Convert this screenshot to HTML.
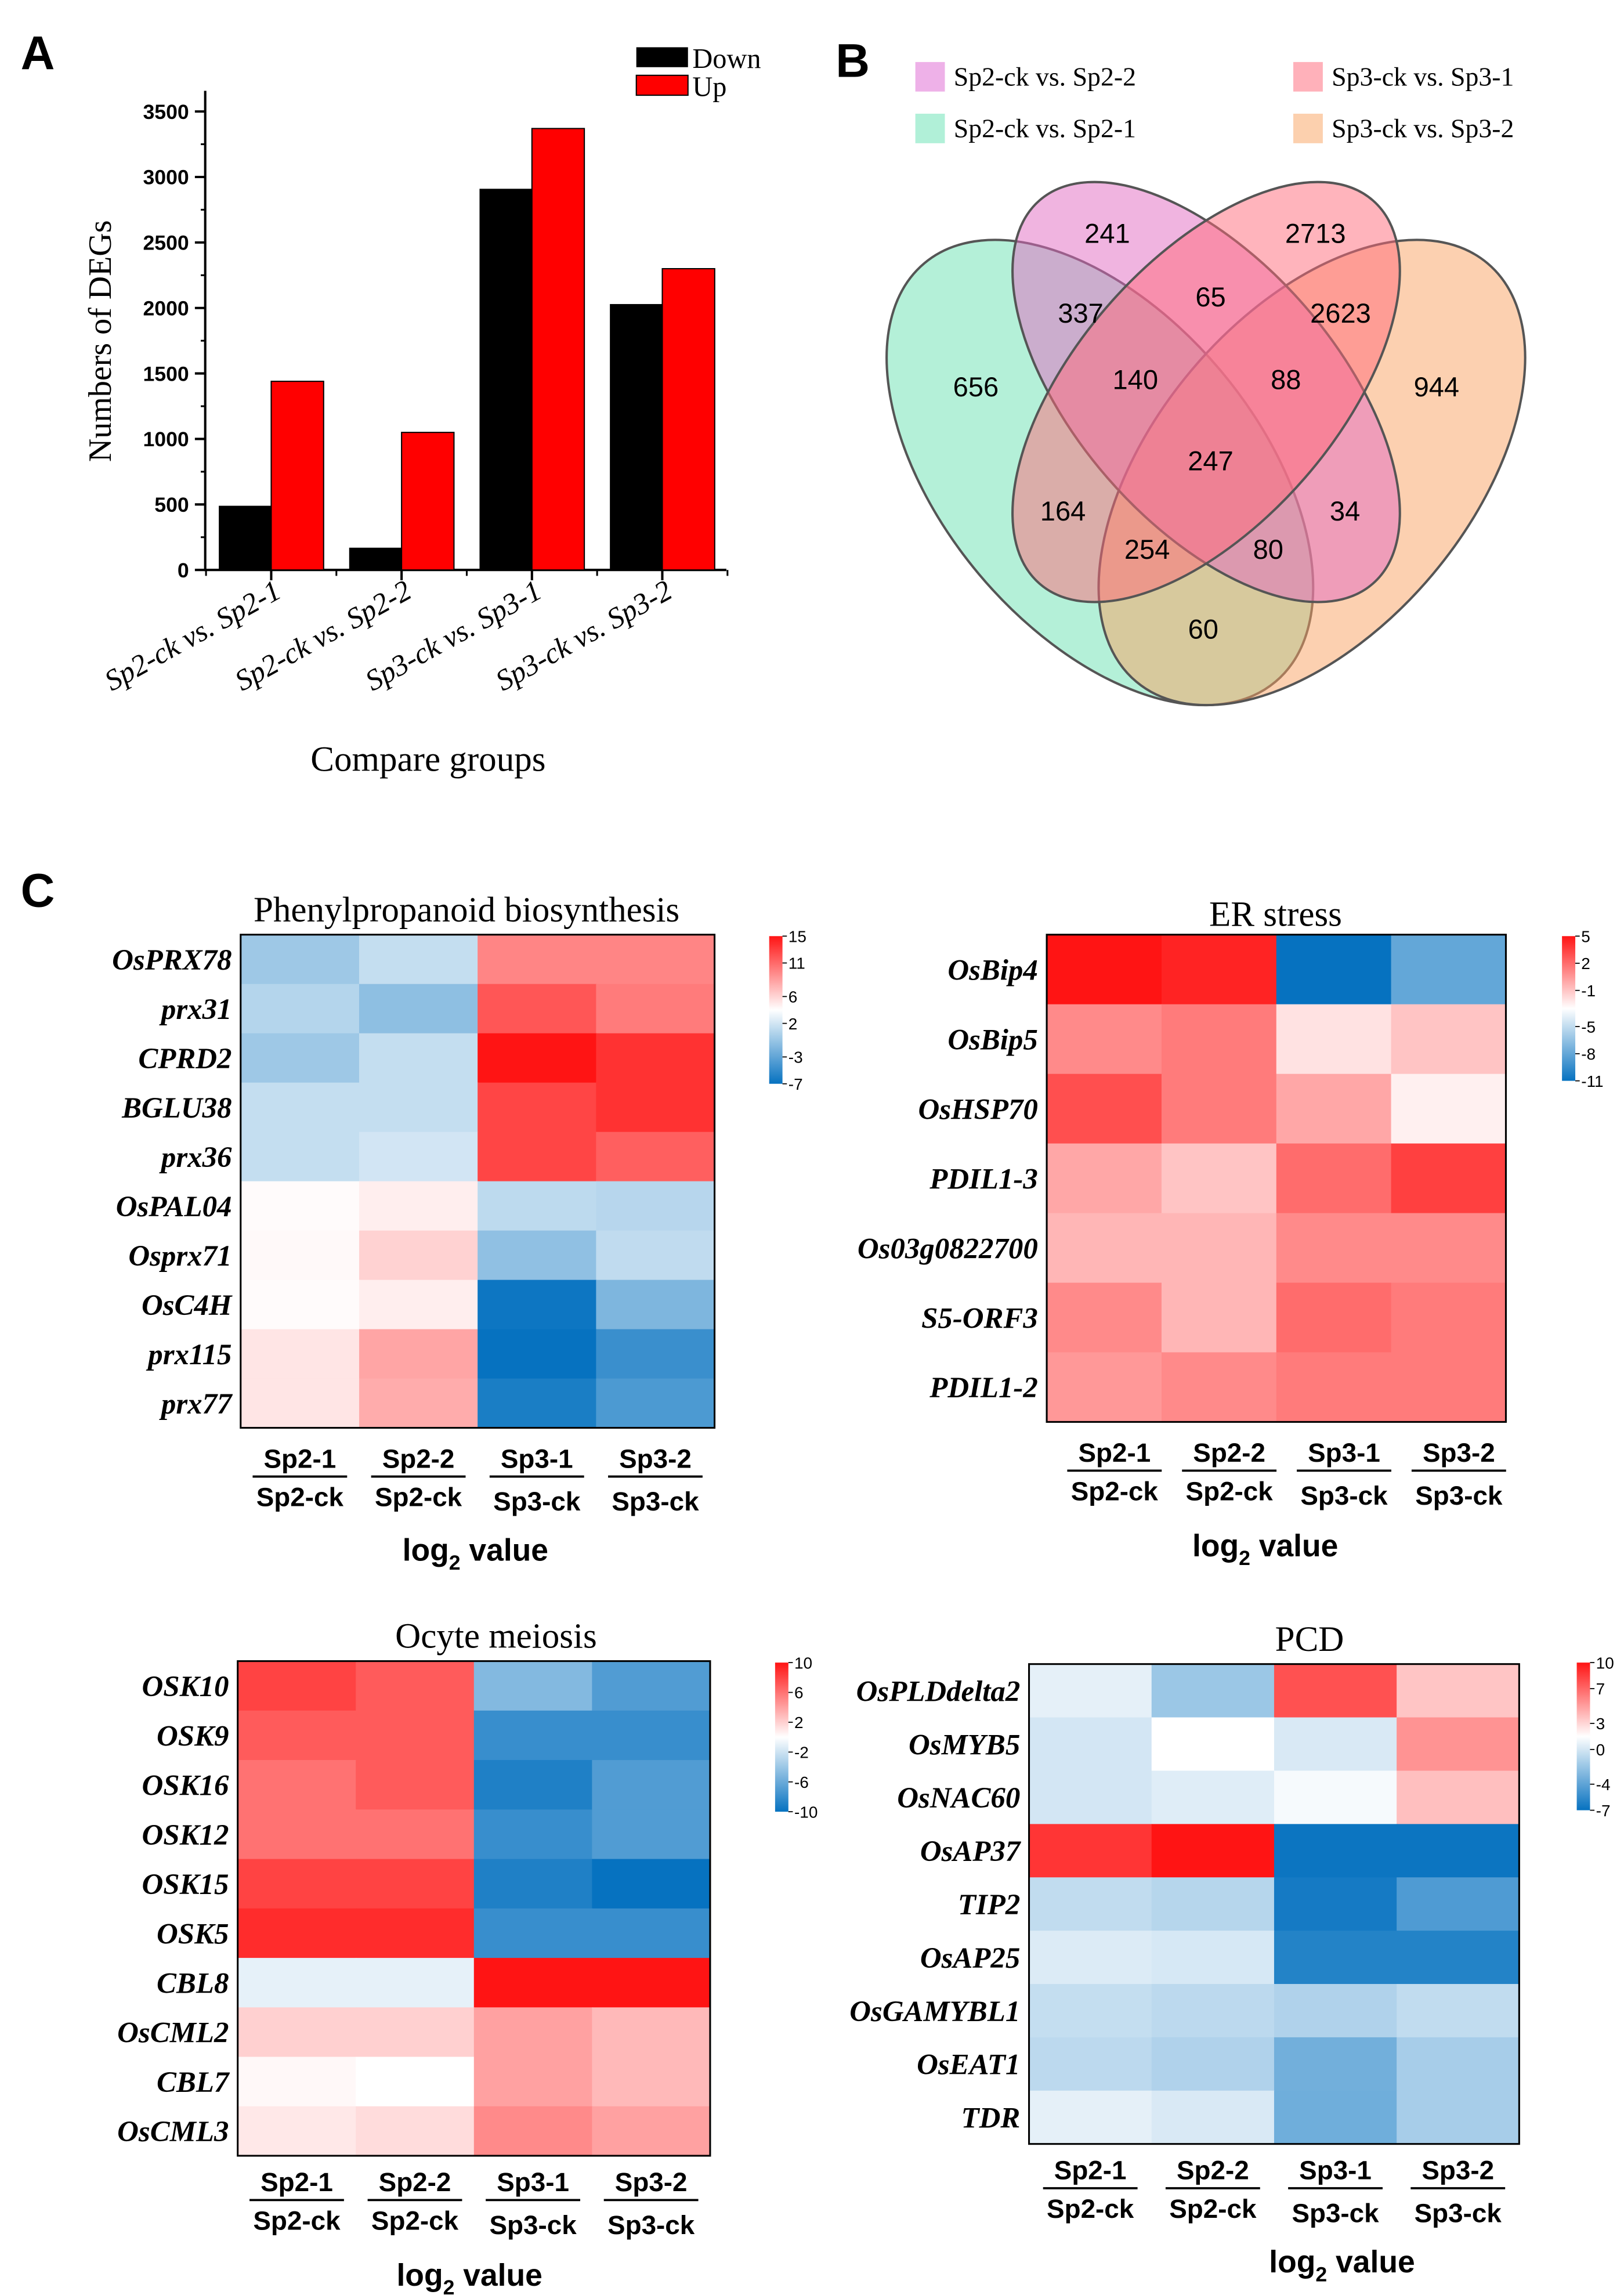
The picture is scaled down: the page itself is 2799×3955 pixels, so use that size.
<!DOCTYPE html>
<html><head><meta charset="utf-8">
<style>
html,body{margin:0;padding:0;background:#fff}
svg{display:block}
.serif{font-family:"Liberation Serif",serif}
.sans{font-family:"Liberation Sans",sans-serif}
</style></head>
<body>
<svg id="fig" xmlns="http://www.w3.org/2000/svg" width="2799" height="3955" viewBox="0 0 1100 1554.3">
<rect width="1100" height="1554.3" fill="#fff"/>
<text x="14" y="47" class="sans" font-size="32" font-weight="bold">A</text>
<text x="566" y="52" class="sans" font-size="32" font-weight="bold">B</text>
<text x="14" y="614" class="sans" font-size="32" font-weight="bold">C</text>
<g id="barchart"></g>
<g id="venn"></g>
<g id="heat"></g>
</svg>
<script>
// ---- Bar chart data ----
const barCategories = ["Sp2-ck vs. Sp2-1","Sp2-ck vs. Sp2-2","Sp3-ck vs. Sp3-1","Sp3-ck vs. Sp3-2"];
const downValues = [490,170,2910,2030];
const upValues = [1440,1050,3370,2300];
const yTicks = [0,500,1000,1500,2000,2500,3000,3500];

// ---- Venn data ----
const vennCounts = [241,2713,337,65,2623,656,140,88,944,247,164,34,254,80,60];
const vennSets = ["Sp2-ck vs. Sp2-2","Sp2-ck vs. Sp2-1","Sp3-ck vs. Sp3-1","Sp3-ck vs. Sp3-2"];

// ---- Heatmap data ----
const colLabelsTop = ["Sp2-1","Sp2-2","Sp3-1","Sp3-2"];
const colLabelsBottom = ["Sp2-ck","Sp2-ck","Sp3-ck","Sp3-ck"];
const phenylGenes = ["OsPRX78","prx31","CPRD2","BGLU38","prx36","OsPAL04","Osprx71","OsC4H","prx115","prx77"];
const phenylValues = [[-0.3,1.4,9.7,9.7],[0.7,-1,11.9,10.2],[-0.3,1.4,15,13.6],[1.4,1.4,12.7,13.6],[1.4,2,12.7,11.5],[4.2,4.8,1.1,0.8],[4.3,6.1,-0.9,1.2],[4.2,4.8,-6.7,-1.7],[5.2,8.2,-7,-4.7],[5.2,7.9,-6.1,-3.9]];
const phenylTicks = [15,11,6,2,-3,-7];
const erGenes = ["OsBip4","OsBip5","OsHSP70","PDIL1-3","Os03g0822700","S5-ORF3","PDIL1-2"];
const erValues = [[5,4.5,-11,-8],[1,1.5,-2,-1],[3,1.5,0,-2.5],[0,-1,2,3.5],[-0.5,-0.5,1,1],[1,-0.5,2,1.5],[0.5,1,1.5,1.5]];
const erTicks = [5,2,-1,-5,-8,-11];
const ocyteGenes = ["OSK10","OSK9","OSK16","OSK12","OSK15","OSK5","CBL8","OsCML2","CBL7","OsCML3"];
const ocyteValues = [[8,7,-5,-7],[7,7,-8,-8],[6,7,-9,-7],[6,6,-8,-7],[8,8,-9,-10],[9,9,-8,-8],[-1,-1,10,10],[2,2,4,3],[0.3,0,4,3],[1,1.5,5,4]];
const ocyteTicks = [10,6,2,-2,-6,-10];
const pcdGenes = ["OsPLDdelta2","OsMYB5","OsNAC60","OsAP37","TIP2","OsAP25","OsGAMYBL1","OsEAT1","TDR"];
const pcdValues = [[0.6,-1.9,7.8,3.6],[0,1.5,0.2,5.4],[0,0.4,1.2,3.8],[8.8,10,-6.8,-6.8],[-0.6,-1,-6.5,-4.5],[0.3,0.1,-6,-6],[-0.5,-0.8,-1.2,-0.6],[-0.8,-1.2,-3.3,-1.5],[0.6,0.2,-3.4,-1.5]];
const pcdTicks = [10,7,3,0,-4,-7];

const NS="http://www.w3.org/2000/svg";
function mk(parent,tag,attrs,text){const e=document.createElementNS(NS,tag);for(const k in attrs)e.setAttribute(k,attrs[k]);if(text!==undefined)e.textContent=text;parent.appendChild(e);return e;}

// ---- Bar chart ----
(function(){
  const g=document.getElementById('barchart');
  const x0=139,x1=492,yb=386,yt=75.5,maxV=3500;
  const y=v=>yb-(v/maxV)*(yb-yt);
  const step=88.3;
  const cx=i=>183.7+i*step;
  const bw=35.5;
  const ax=mk(g,'path',{d:`M${x0} ${yt-14}V${yb}H${x1}`,stroke:'#000','stroke-width':1.6,fill:'none'});
  
  yTicks.forEach(t=>{
    const l=mk(g,'line',{x1:x0-7,x2:x0,y1:y(t),y2:y(t),stroke:'#000','stroke-width':1.6});
    
    if(t<3500){const m=mk(g,'line',{x1:x0-3,x2:x0,y1:y(t+250),y2:y(t+250),stroke:'#000','stroke-width':1.2});
    }
    const tx=mk(g,'text',{x:x0-11,y:y(t)+5,'text-anchor':'end','font-size':14,'font-weight':'bold',class:'sans'},t);
    
  });
  for(let i=0;i<=4;i++){
    const bx=cx(0)-step/2+i*step;
    const m=mk(g,'line',{x1:bx,x2:bx,y1:yb,y2:yb+4,stroke:'#000','stroke-width':1.2});
    
  }
  barCategories.forEach((c,i)=>{
    const d=mk(g,'rect',{x:cx(i)-bw,y:y(downValues[i]),width:bw,height:yb-y(downValues[i]),fill:'#000'});
    
    const u=mk(g,'rect',{x:cx(i),y:y(upValues[i]),width:bw,height:yb-y(upValues[i]),fill:'#ff0000',stroke:'#000','stroke-width':0.8});
    
    const tk=mk(g,'line',{x1:cx(i),x2:cx(i),y1:yb,y2:yb+7,stroke:'#000','stroke-width':1.6});
    
    const tl=mk(g,'text',{x:cx(i)+8,y:yb+18,'text-anchor':'end','font-size':20,'font-style':'italic',class:'serif',transform:`rotate(-29 ${cx(i)+8} ${yb+18})`},c);
    
  });
  const yt2=mk(g,'text',{x:75,y:231,'text-anchor':'middle','font-size':22,class:'serif',transform:'rotate(-90 75 231)'},'Numbers of DEGs');
  
  const xt=mk(g,'text',{x:290,y:522,'text-anchor':'middle','font-size':24,class:'serif'},'Compare groups');
  
  const l1=mk(g,'rect',{x:431,y:32,width:35,height:13.5,fill:'#000'});
  
  const l2=mk(g,'rect',{x:431,y:51,width:35,height:13.5,fill:'#ff0000',stroke:'#000','stroke-width':0.8});
  
  const t1=mk(g,'text',{x:469,y:46,'font-size':19,class:'serif'},'Down');
  
  const t2=mk(g,'text',{x:469,y:65,'font-size':19,class:'serif'},'Up');
  
})();

// ---- Venn ----
(function(){
  const g=document.getElementById('venn');
  const ells=[
    {cx:745,cy:320,rx:185,ry:107,rot:50,fill:'#69e1b1',name:'ellipse-sp2-1'},
    {cx:888.6,cy:320,rx:185,ry:107,rot:-50,fill:'#f9a161',name:'ellipse-sp3-2'},
    {cx:817,cy:265.5,rx:172,ry:88.6,rot:49,fill:'#e169c1',name:'ellipse-sp2-2'},
    {cx:817,cy:265.5,rx:172,ry:88.6,rot:-49,fill:'#ff6979',name:'ellipse-sp3-1'}
  ];
  ells.forEach(e=>{
    const el=mk(g,'ellipse',{cx:e.cx,cy:e.cy,rx:e.rx,ry:e.ry,transform:`rotate(${e.rot} ${e.cx} ${e.cy})`,fill:e.fill,'fill-opacity':0.5,stroke:'#555','stroke-width':1.6});
    
  });
  const pos=[[750,158],[891,158],[732,212],[820,201],[908,212],[661,262],[769,257],[871,257],[973,262],[820,312],[720,346],[911,346],[777,372],[859,372],[815,426]];
  vennCounts.forEach((c,i)=>{
    const t=mk(g,'text',{x:pos[i][0],y:pos[i][1]+6.5,'text-anchor':'middle','font-size':18.5,class:'sans'},c);
    
  });
  const leg=[[620,42,'#eeb1e8'],[620,77,'#b1f0d8'],[876,42,'#ffb1ba'],[876,77,'#fcd0ae']];
  leg.forEach((l,i)=>{
    const r=mk(g,'rect',{x:l[0],y:l[1],width:20,height:20,fill:l[2]});
    
    const t=mk(g,'text',{x:l[0]+26,y:l[1]+16,'font-size':18,class:'serif'},vennSets[i]);
    
  });
})();

// ---- Heatmaps ----
function lerp(a,b,t){return a+(b-a)*t;}
function colorFor(v,min,max){
  const mid=(min+max)/2;
  const blue=[6,114,192],white=[255,255,255],red=[255,20,20];
  let c;
  if(v>=mid){const t=Math.min(1,(v-mid)/(max-mid));c=white.map((w,i)=>lerp(w,red[i],t));}
  else{const t=Math.min(1,(mid-v)/(mid-min));c=white.map((w,i)=>lerp(w,blue[i],t));}
  return `rgb(${c.map(Math.round).join(',')})`;
}
let gradId=0;
function heatmap(cfg){
  const g=mk(document.getElementById('heat'),'g',{});
  
  const {x0,y0,x1,y1,genes,vals,ticks}=cfg;
  const min=Math.min(...ticks),max=Math.max(...ticks);
  const cw=(x1-x0)/4,rh=(y1-y0)/genes.length;
  vals.forEach((row,r)=>row.forEach((v,c)=>{
    const el=mk(g,'rect',{x:x0+c*cw,y:y0+r*rh,width:cw+0.5,height:rh+0.5,fill:colorFor(v,min,max)});
    
  }));
  const fr=mk(g,'rect',{x:x0,y:y0,width:x1-x0,height:y1-y0,fill:'none',stroke:'#000','stroke-width':1.2});
  
  genes.forEach((gn,r)=>{
    const t=mk(g,'text',{x:x0-6,y:y0+(r+0.5)*rh+7,'text-anchor':'end','font-size':20,'font-weight':'bold','font-style':'italic',class:'serif'},gn);
    
  });
  const tt=mk(g,'text',{x:cfg.tx,y:cfg.ty,'text-anchor':'middle','font-size':24,class:'serif'},cfg.title);
  
  colLabelsTop.forEach((c,i)=>{
    const cx=x0+(i+0.5)*cw+cfg.lshift;
    const a=mk(g,'text',{x:cx,y:cfg.ly,'text-anchor':'middle','font-size':18,'font-weight':'bold',class:'sans'},c);
    
    const ln=mk(g,'line',{x1:cx-32,x2:cx+32,y1:cfg.ly+6,y2:cfg.ly+6,stroke:'#000','stroke-width':1.5});
    
    const b=mk(g,'text',{x:cx,y:cfg.ly+26+(i>=2?3:0),'text-anchor':'middle','font-size':18,'font-weight':'bold',class:'sans'},colLabelsBottom[i]);
    
  });
  const lv=mk(g,'text',{x:cfg.vx,y:cfg.vy,'text-anchor':'middle','font-size':21,'font-weight':'bold',class:'sans'});
  
  lv.appendChild(document.createTextNode('log'));
  mk(lv,'tspan',{dy:6,'font-size':14},'2');
  mk(lv,'tspan',{dy:-6},' value');
  const id='cb'+(gradId++);
  const defs=mk(g,'defs',{});
  const lg=mk(defs,'linearGradient',{id:id,x1:0,y1:0,x2:0,y2:1});
  for(let i=0;i<=10;i++){const v=max-(max-min)*i/10;mk(lg,'stop',{offset:i/10,'stop-color':colorFor(v,min,max)});}
  const cb=mk(g,'rect',{x:cfg.bx,y:cfg.by0,width:9,height:cfg.by1-cfg.by0,fill:`url(#${id})`});
  
  ticks.forEach(t=>{
    const yy=cfg.by0+(max-t)/(max-min)*(cfg.by1-cfg.by0);
    const l=mk(g,'line',{x1:cfg.bx+9,x2:cfg.bx+12,y1:yy,y2:yy,stroke:'#000','stroke-width':0.7});
    
    const tx=mk(g,'text',{x:cfg.bx+13,y:yy+4,'font-size':11,class:'sans'},t);
    
  });
}
heatmap({name:'heatmap-phenylpropanoid',title:'Phenylpropanoid biosynthesis',tx:316,ty:624,x0:163,y0:633,x1:484,y1:967,genes:phenylGenes,vals:phenylValues,ticks:phenylTicks,ly:994,lshift:0,vx:322,vy:1057,bx:521,by0:634,by1:734});
heatmap({name:'heatmap-er-stress',title:'ER stress',tx:864,ty:627,x0:709,y0:633,x1:1020,y1:963,genes:erGenes,vals:erValues,ticks:erTicks,ly:990,lshift:7,vx:857,vy:1054,bx:1058,by0:634,by1:732});
heatmap({name:'heatmap-ocyte-meiosis',title:'Ocyte meiosis',tx:336,ty:1116,x0:161,y0:1125,x1:481,y1:1460,genes:ocyteGenes,vals:ocyteValues,ticks:ocyteTicks,ly:1484,lshift:0,vx:318,vy:1548,bx:525,by0:1126,by1:1227});
heatmap({name:'heatmap-pcd',title:'PCD',tx:887,ty:1118,x0:697,y0:1127,x1:1029,y1:1452,genes:pcdGenes,vals:pcdValues,ticks:pcdTicks,ly:1476,lshift:0,vx:909,vy:1539,bx:1068,by0:1126,by1:1226});
</script>
</body></html>
